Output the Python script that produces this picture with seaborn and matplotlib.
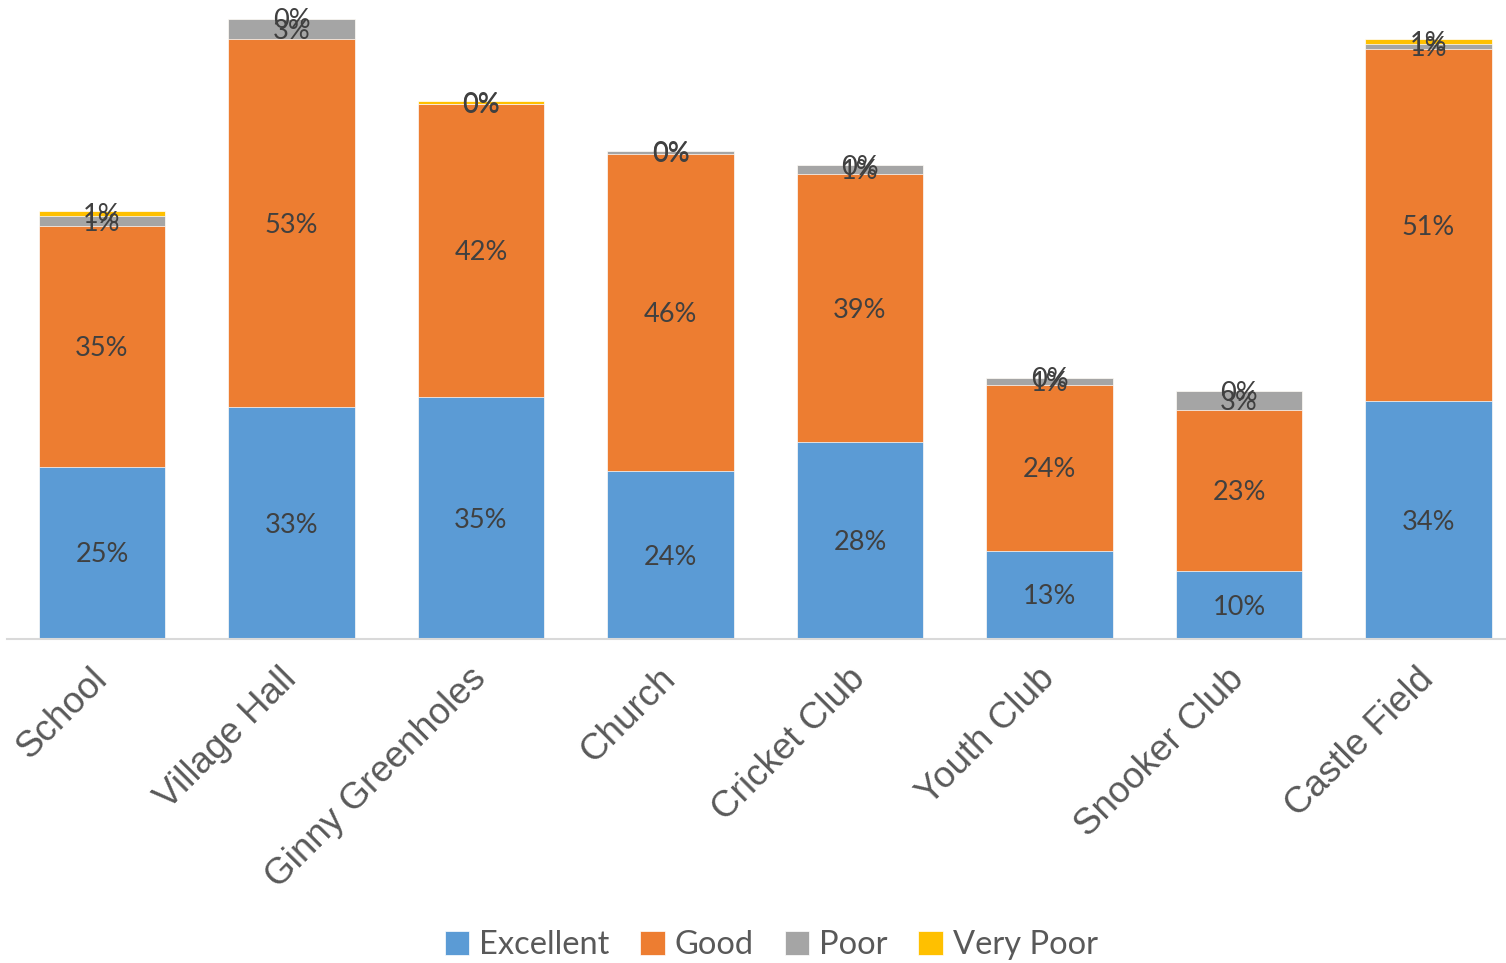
import numpy as np
import pandas as pd
import seaborn as sns
import matplotlib.pyplot as plt

# venue ratings (share of responses, %)
venues = ["School", "Village Hall", "Ginny Greenholes", "Church",
          "Cricket Club", "Youth Club", "Snooker Club", "Castle Field"]
excellent = [24.8, 33.4, 34.8, 24.2, 28.3, 12.7, 9.8, 34.2]
good = [34.7, 53.0, 42.3, 45.6, 38.7, 23.9, 23.2, 50.8]
poor = [1.4, 2.9, 0.0, 0.4, 1.2, 1.0, 2.7, 0.7]
very_poor = [0.7, 0.0, 0.4, 0.0, 0.0, 0.0, 0.0, 0.7]

series = ["Excellent", "Good", "Poor", "Very Poor"]
colors = ["#5B9BD5", "#ED7D31", "#A5A5A5", "#FFC000"]

df = pd.DataFrame({"venue": venues, "Excellent": excellent, "Good": good,
                   "Poor": poor, "Very Poor": very_poor})
cum = df[series].cumsum(axis=1)

sns.set_style("white")
plt.rcParams["font.family"] = ["Lato", "DejaVu Sans"]

fig = plt.figure(figsize=(15.06, 9.63), dpi=100)
ax = fig.add_axes([7.25 / 1506, 1 - 639 / 963, 1498.75 / 1506, 625 / 963])

# stacked bars: draw cumulative totals from the top series down
for s, c in zip(series[::-1], colors[::-1]):
    sns.barplot(x=df["venue"], y=cum[s], color=c, width=0.665,
                saturation=1, ax=ax, label=s, edgecolor="white", linewidth=0.5)

# data labels centred in each segment
for s in series:
    mids = cum[s] - df[s] / 2
    for i, (m, v) in enumerate(zip(mids, df[s])):
        ax.text(i, m - 0.3, f"{v:.0f}%", ha="center", va="center",
                fontsize=19.5, color="#404040")

ax.set_ylim(0, 90)
ax.set_xlim(-0.5, -0.5 + 1498.75 / 189.5)
ax.set_xlabel("")
ax.set_ylabel("")
ax.set_yticks([])
for sp in ["top", "right", "left"]:
    ax.spines[sp].set_visible(False)
ax.spines["bottom"].set_color("#D9D9D9")
ax.spines["bottom"].set_linewidth(1.5)
ax.tick_params(axis="x", length=0, pad=25)
for lab in ax.get_xticklabels():
    lab.set_rotation(45)
    lab.set_ha("right")
    lab.set_va("center")
    lab.set_rotation_mode("anchor")
    lab.set_fontfamily("Liberation Sans")
    lab.set_fontsize(26.5)
    lab.set_color("#595959")

handles, labels = ax.get_legend_handles_labels()
if ax.get_legend() is not None:
    ax.get_legend().remove()
order = [labels.index(s) for s in series]
fig.legend([handles[i] for i in order], series, loc="center",
           bbox_to_anchor=(0.512, 1 - 945 / 963), ncol=4, frameon=False,
           fontsize=23.5, labelcolor="#595959", handlelength=0.75,
           handleheight=0.75, handletextpad=0.3, columnspacing=0.95)

fig.savefig("out.png", dpi=100)
